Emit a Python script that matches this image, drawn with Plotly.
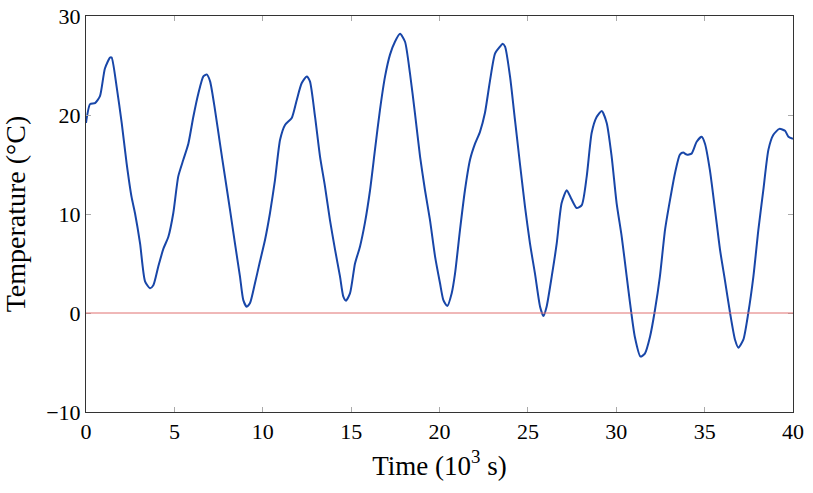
import plotly.graph_objects as go

time_ks = [0.0, 0.23, 0.51, 0.79, 1.07, 1.36, 1.45, 1.73, 2.02, 2.30, 2.58, 2.77, 3.06, 3.34, 3.62, 3.81,
           4.09, 4.38, 4.66, 4.94, 5.22, 5.51, 5.79, 6.07, 6.36, 6.64, 6.83, 7.02, 7.30, 7.58, 7.86,
           8.15, 8.43, 8.71, 8.90, 9.09, 9.28, 9.56, 9.84, 10.13, 10.41, 10.69, 10.98, 11.26, 11.64,
           11.92, 12.20, 12.49, 12.67, 12.96, 13.24, 13.52, 13.80, 14.09, 14.37, 14.56, 14.71, 14.94,
           15.22, 15.50, 15.78, 16.07, 16.35, 16.63, 16.92, 17.20, 17.48, 17.77, 18.05, 18.33, 18.61,
           18.90, 19.18, 19.46, 19.75, 20.03, 20.22, 20.44, 20.69, 20.88, 21.16, 21.44, 21.73, 22.01,
           22.29, 22.57, 22.86, 23.14, 23.42, 23.57, 23.71, 23.99, 24.27, 24.55, 24.84, 25.12, 25.40,
           25.69, 25.88, 26.06, 26.35, 26.63, 26.91, 27.20, 27.44, 27.76, 28.05, 28.33, 28.61, 28.89,
           29.18, 29.46, 29.74, 30.02, 30.31, 30.59, 30.78, 31.05, 31.37, 31.62, 31.91, 32.19, 32.47,
           32.76, 33.04, 33.32, 33.60, 33.79, 33.98, 34.26, 34.55, 34.83, 35.02, 35.30, 35.59, 35.87,
           36.15, 36.44, 36.72, 36.91, 37.19, 37.47, 37.76, 38.04, 38.32, 38.61, 38.89, 39.23, 39.55,
           39.74, 40.0]
temperature_c = [19.2, 21.1, 21.2, 21.9, 24.7, 25.8, 25.8, 22.9, 19.2, 15.1, 11.7, 10.1, 7.0, 3.2, 2.5, 2.8,
                 4.7, 6.5, 7.7, 10.1, 13.8, 15.5, 17.1, 19.8, 22.2, 23.9, 24.1, 23.4, 20.5, 17.1, 13.8,
                 10.4, 7.0, 3.7, 1.3, 0.64, 1.0, 3.0, 5.2, 7.4, 10.1, 13.4, 17.5, 19.0, 19.7,
                 21.5, 23.2, 23.9, 23.4, 19.8, 15.8, 12.8, 9.4, 6.4, 3.7, 1.65, 1.25, 2.0,
                 5.0, 6.7, 9.1, 12.4, 16.5, 20.5, 23.9, 26.1, 27.4, 28.2, 27.4, 24.2, 20.2,
                 15.8, 12.4, 9.4, 5.7, 3.0, 1.3, 0.7, 2.0, 4.0, 8.4, 12.4, 15.5, 17.1,
                 18.3, 20.2, 23.5, 26.2, 26.9, 27.2, 26.9, 23.9, 19.5, 15.1, 10.7, 7.0, 4.0,
                 0.64, -0.3, 0.64, 3.7, 7.0, 11.1, 12.4, 11.6, 10.6, 10.9, 13.8, 18.2, 19.8,
                 20.4, 19.2, 15.8, 11.1, 7.7, 3.7, 1.0, -2.4, -4.4, -4.1, -2.4, 0.3, 3.7,
                 8.4, 11.4, 14.1, 16.0, 16.2, 16.0, 16.1, 17.3, 17.8, 17.1, 14.4, 10.4, 6.4,
                 3.3, 0.0, -2.7, -3.5, -2.7, 0.0, 3.7, 8.4, 12.4, 16.5, 18.0, 18.6, 18.4,
                 17.8, 17.6]

x_ticks = [0, 5, 10, 15, 20, 25, 30, 35, 40]
y_ticks = [-10, 0, 10, 20, 30]
reference_level = 0

fig = go.Figure()
fig.add_trace(go.Scatter(x=time_ks, y=temperature_c, mode="lines",
                         line=dict(color="#1846a8", width=2, shape="spline", smoothing=0.6),
                         showlegend=False))
fig.add_hline(y=reference_level, line=dict(color="#e07070", width=1))

font = dict(family="Liberation Serif, Times New Roman, serif", color="black")
axis_common = dict(showgrid=False, zeroline=False, showline=True, linecolor="#333333",
                   linewidth=1, mirror="allticks", ticks="inside", ticklen=5, tickcolor="#aaaaaa",
                   tickfont=dict(size=22, **font), automargin=False)
fig.update_xaxes(range=[0, 40], tickvals=x_ticks, **axis_common,
                 title=dict(text="Time (10<sup>3</sup> s)", font=dict(size=27, **font), standoff=12))
fig.update_yaxes(range=[-10, 30], tickvals=y_ticks, **axis_common,
                 title=dict(text="Temperature (°C)", font=dict(size=28, **font), standoff=12))
fig.update_layout(width=813, height=493, margin=dict(l=86, r=20, t=16, b=81),
                  plot_bgcolor="white", paper_bgcolor="white")
fig.write_html("out.html", config={"displayModeBar": False},
               post_script="document.body.style.margin='0';document.body.style.overflow='hidden';")
